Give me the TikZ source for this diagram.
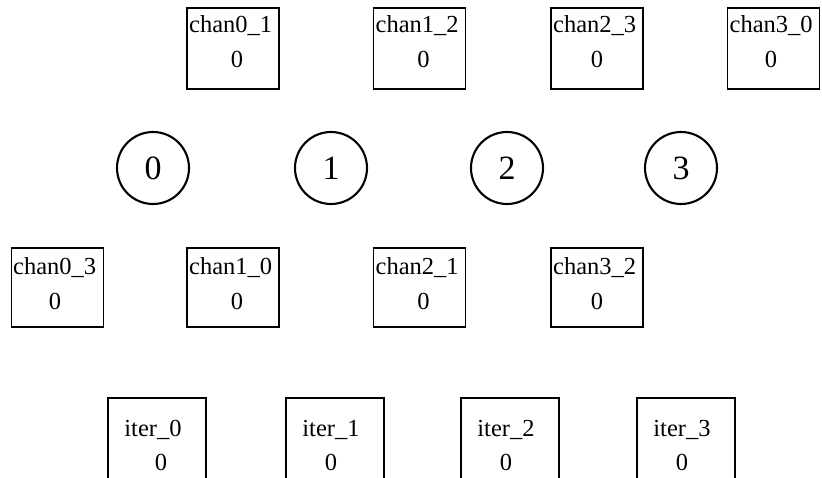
\documentclass[tikz,border=0pt]{standalone}
\usepackage{fontspec}
\setmainfont{Liberation Serif}
\begin{document}
\begin{tikzpicture}[x=1pt,y=-1pt,
  cell/.style={draw, line width=1.5pt, inner sep=0pt, minimum width=92pt},
  iterbox/.style={draw, line width=1.5pt, inner sep=0pt, minimum width=98pt, minimum height=100pt},
  proc/.style={draw, circle, line width=2.1pt, inner sep=0pt, minimum size=72pt,
    font=\fontsize{34}{34}\selectfont},
  lbl/.style={inner sep=0pt, anchor=west, font=\fontsize{24.5}{24.5}\selectfont},
  ilbl/.style={inner sep=0pt, font=\fontsize{24.5}{24.5}\selectfont},
  val/.style={inner sep=0pt, font=\fontsize{24.5}{24.5}\selectfont}]
\clip (0,0) rectangle (822,478);
\fill[white] (0,0) rectangle (822,478);

% channels written by each process (upper row)
\node[cell, minimum height=81pt] (c01) at (233,48.5) {};
\node[cell, minimum height=81pt] (c12) at (419.5,48.5) {};
\node[cell, minimum height=81pt] (c23) at (597,48.5) {};
\node[cell, minimum height=81pt] (c30) at (773.5,48.5) {};
\node[lbl] (c01l) at (189,26) {chan0\_1};
\node[lbl] (c12l) at (375.5,26) {chan1\_2};
\node[lbl] (c23l) at (553,26) {chan2\_3};
\node[lbl] (c30l) at (729.5,26) {chan3\_0};
\node[val] (c01v) at (237,59) {0};
\node[val] (c12v) at (423.5,59) {0};
\node[val] (c23v) at (597,59) {0};
\node[val] (c30v) at (771,59) {0};

% processes
\node[proc] (p0) at (153,168) {0};
\node[proc] (p1) at (331,168) {1};
\node[proc] (p2) at (507,168) {2};
\node[proc] (p3) at (681,168) {3};

% channels in the reverse direction (middle row)
\node[cell, minimum height=79pt] (c03) at (57.5,287.5) {};
\node[cell, minimum height=79pt] (c10) at (233,287.5) {};
\node[cell, minimum height=79pt] (c21) at (419.5,287.5) {};
\node[cell, minimum height=79pt] (c32) at (597,287.5) {};
\node[lbl] (c03l) at (13,268) {chan0\_3};
\node[lbl] (c10l) at (189,268) {chan1\_0};
\node[lbl] (c21l) at (375.5,268) {chan2\_1};
\node[lbl] (c32l) at (553,268) {chan3\_2};
\node[val] (c03v) at (55,301) {0};
\node[val] (c10v) at (237,301) {0};
\node[val] (c21v) at (423.5,301) {0};
\node[val] (c32v) at (597,301) {0};

% iteration counters (bottom row)
\node[iterbox] (i0) at (157,448) {};
\node[iterbox] (i1) at (335,448) {};
\node[iterbox] (i2) at (510,448) {};
\node[iterbox] (i3) at (686,448) {};
\node[ilbl] (i0l) at (153,430) {iter\_0};
\node[ilbl] (i1l) at (331,430) {iter\_1};
\node[ilbl] (i2l) at (506,430) {iter\_2};
\node[ilbl] (i3l) at (682,430) {iter\_3};
\node[val] (i0v) at (161,462) {0};
\node[val] (i1v) at (331,462) {0};
\node[val] (i2v) at (506,462) {0};
\node[val] (i3v) at (682,462) {0};
\end{tikzpicture}
\end{document}
